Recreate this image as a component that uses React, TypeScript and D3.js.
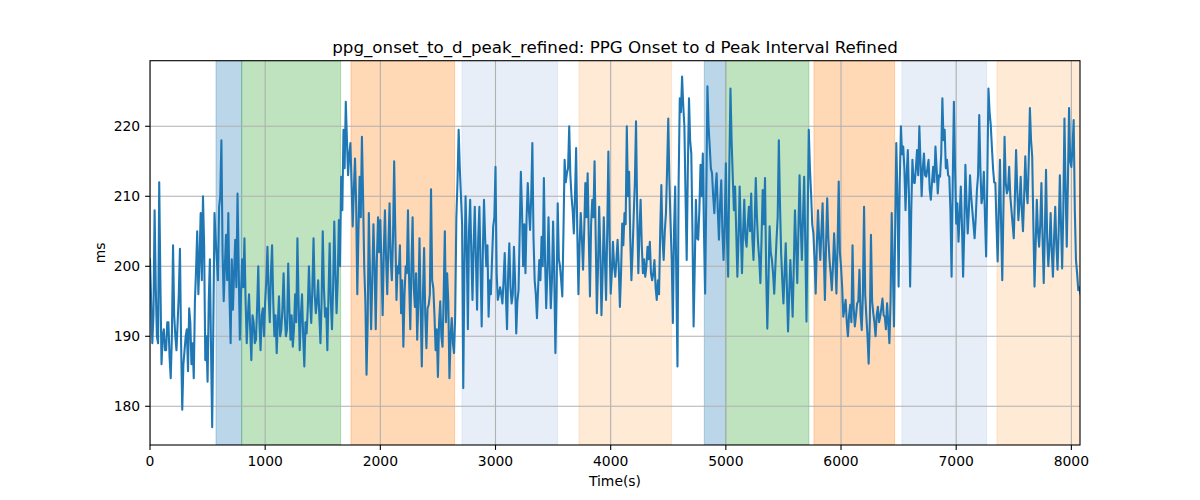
import React from "react";
import * as d3 from "d3";

const title = "ppg_onset_to_d_peak_refined: PPG Onset to d Peak Interval Refined";
const xLabel = "Time(s)";
const yLabel = "ms";

const sampleStep = 20; // seconds between main samples; mid samples sit halfway
const values: number[] = [
  201, 189, 208, 190, 212, 186, 191, 188, 192, 184,
  203, 190, 192, 202.5, 179.5, 188, 191, 194, 186, 184,
  199.5, 196, 207.6, 210, 186.6, 183.5, 201, 177, 207.6, 201,
  208.5, 218, 195, 204.5, 207.6, 189, 193.8, 203.8, 210.4, 189.5,
  201, 204, 189, 196, 186.6, 192, 189.5, 200, 188, 194,
  195, 202.8, 192, 203, 190, 187.6, 195.7, 191, 199, 190,
  200.4, 189.5, 188.5, 196, 204, 188, 196, 185.7, 190.4, 200,
  191.9, 204, 193.3, 198, 189, 205, 192.8, 188, 203.3, 191,
  206.4, 193.3, 206.6, 212.8, 219.5, 223.5, 213, 217.6, 205.7, 215.4,
  196, 212.8, 218.5, 200, 184.5, 207.6, 191, 206, 191, 207,
  206.6, 193, 208, 196, 209, 198, 215, 195.2, 199, 193.3,
  188.5, 200, 208, 191, 207, 194.2, 189.5, 204, 185.7, 202.6,
  188.3, 194.5, 211, 196.9, 188, 184.2, 195, 188.5, 205, 199,
  184, 192.6, 187.6, 207, 219.5, 210, 182.6, 210, 191, 209.5,
  195.2, 208.5, 193.8, 208.5, 191.4, 209.5, 200, 192.8, 196, 205.7,
  214.2, 195.2, 197, 194.7, 201.9, 191, 203.3, 194.7, 202.8, 190.4,
  196.6, 213.5, 200, 199, 211.9, 205.2, 217.6, 198, 192.6, 200.9,
  204.2, 212.6, 194, 207, 194, 206.4, 187.6, 209, 200, 195.7,
  215.2, 213.3, 220, 210, 204.7, 216.9, 196, 207.6, 199.5, 211.9,
  213.3, 195.7, 209.5, 215, 193.3, 208.5, 193, 207, 195.2, 216.4,
  196.1, 203.5, 198.5, 203.8, 194.2, 206.1, 207.6, 220, 213.5, 198,
  207.3, 220.7, 199, 209.5, 199, 198.5, 202.8, 203.5, 198, 200.9,
  195.2, 196, 211.6, 200.9, 207.6, 221.1, 206.1, 191.9, 211.4, 185.7,
  224, 227.1, 220, 200.9, 224, 216.1, 191.4, 209.5, 203.8, 214.5,
  216.1, 196.1, 225.7, 217.1, 213.3, 207.6, 213.3, 203.8, 212.3, 200.9,
  214.7, 198.5, 225.4, 212.8, 211.4, 198.5, 211.4, 199, 209.5, 202.8,
  208.5, 210.4, 200.9, 212.6, 203.3, 197.6, 210.9, 212.6, 191.1, 205.7,
  200.9, 196.1, 203.8, 218, 201.9, 194.7, 203.3, 190.7, 200.9, 192.8,
  208, 197.6, 213, 200.9, 212.8, 192.1, 219.5, 210.4, 204.7, 196.1,
  208, 200.9, 209, 195.2, 209.7, 200.9, 196.6, 204.7, 196.1, 212.1,
  200, 192.8, 195.2, 190, 194.5, 203, 191.4, 194.7, 199.5, 190.9,
  208.5, 192.8, 186.1, 204.5, 193.3, 190, 194.2, 192.8, 195.4, 192.8,
  194.7, 189, 207.6, 191.4, 217.6, 197.1, 220, 217.1, 208, 216.6,
  197.1, 215.2, 211.9, 216.6, 220, 210, 216.1, 212.8, 215.2, 209.5,
  214.2, 217.1, 210.4, 212.8, 224, 219.5, 215.2, 212.8, 198.5, 223.5,
  206.1, 203.5, 211.4, 198.5, 214.5, 204.7, 213, 208, 204, 210.9,
  221.6, 209, 213.5, 201.4, 225.4, 220.2, 214, 211.9, 200.7, 215.2,
  198, 218.5, 210.4, 214.2, 208, 204, 216.6, 206.6, 212.8, 205,
  215.7, 209, 222.6, 215.7, 197.1, 209.5, 202.8, 211.9, 197.6, 213.8,
  200, 207.6, 198.5, 208.5, 199.5, 213, 199.7, 221.1, 202.8, 222.6,
  214.2, 220.9, 200.9, 196.6, 196,
];

const midValues: number[] = [
  195, 193, 197, 189, 198, 190, 188, 192, 187, 190,
  193, 188, 196, 189, 186, 190, 185, 192, 189, 195,
  205, 201, 198, 203, 190, 195, 188, 192, 204, 198,
  210, 202, 200, 198, 196, 201, 199, 197, 200, 196,
  197, 195, 193, 191, 193, 189, 194, 192, 193, 190,
  198, 196, 199, 195, 193, 192, 190, 194, 193, 191,
  194, 193, 191, 192, 195, 193, 190, 192, 194, 195,
  197, 196, 195, 193, 195, 197, 194, 196, 195, 197,
  199, 198, 200, 208, 214, 218, 216, 212, 211, 209,
  205, 207, 210, 195, 192, 199, 198, 200, 201, 202,
  200, 202, 201, 203, 201, 204, 205, 200, 203, 198,
  196, 199, 198, 200, 197, 199, 195, 194, 196, 193,
  194, 196, 198, 193, 191, 192, 190, 196, 192, 195,
  190, 189, 193, 212, 214, 206, 200, 203, 205, 202,
  203, 201, 204, 200, 202, 204, 203, 198, 201, 207,
  199, 196, 196, 198, 196, 199, 197, 196, 198, 195,
  205, 208, 206, 207, 208, 210, 204, 196, 197, 198,
  200, 201, 199, 200, 198, 199, 196, 201, 198, 205,
  212, 214, 213, 208, 210, 205, 203, 204, 205, 207,
  204, 206, 207, 204, 200, 202, 199, 201, 205, 204,
  199, 200, 201, 200, 199, 203, 206, 210, 204, 202,
  212, 208, 205, 203, 201, 200, 201, 199, 199, 197,
  198, 205, 204, 205, 214, 212, 201, 205, 198, 212,
  222, 223, 210, 214, 218, 205, 200, 204, 208, 210,
  205, 210, 220, 214, 210, 211, 208, 209, 205, 206,
  204, 214, 218, 208, 205, 204, 205, 205, 204, 206,
  205, 204, 206, 207, 201, 204, 206, 199, 198, 202,
  199, 200, 207, 209, 198, 199, 197, 196, 197, 200,
  203, 205, 206, 207, 203, 206, 214, 206, 201, 203,
  204, 205, 202, 203, 204, 199, 200, 201, 203, 202,
  197, 194, 192, 193, 192, 194, 193, 195, 193, 196,
  196, 190, 192, 195, 192, 193, 192, 194, 193, 191,
  192, 195, 200, 205, 210, 212, 216, 214, 213, 210,
  208, 212, 214, 213, 215, 214, 213, 214, 211, 212,
  212, 214, 213, 216, 218, 214, 213, 208, 212, 214,
  209, 207, 206, 205, 209, 208, 210, 206, 207, 213,
  214, 210, 207, 212, 222, 217, 212, 206, 208, 206,
  208, 212, 211, 210, 206, 210, 211, 209, 208, 210,
  211, 215, 218, 206, 203, 205, 206, 204, 205, 204,
  203, 202, 204, 203, 205, 206, 208, 211, 212, 215,
  217, 208, 199, 197,
];

const spanStarts = [573, 796, 1745, 2709, 3725, 4813, 4998, 5765, 6529, 7354];
const spanEnds = [796, 1655, 2645, 3539, 4529, 4998, 5721, 6465, 7264, 8200];
const spanColors = ["#1f77b4", "#2ca02c", "#ff7f0e", "#aec7e8", "#ffbb78", "#1f77b4", "#2ca02c", "#ff7f0e", "#aec7e8", "#ffbb78"];

const xTicks = [0, 1000, 2000, 3000, 4000, 5000, 6000, 7000, 8000];
const yTicks = [180, 190, 200, 210, 220];
const xDomain = [0, 8075];
const yDomain = [174.47, 229.37];

const W = 1200, H = 500;
const M = { left: 150, right: 1080, top: 60.7, bottom: 445 };
const FONT = "DejaVu Sans, sans-serif";

export default function App() {
  const x = d3.scaleLinear().domain(xDomain).range([M.left, M.right]);
  const y = d3.scaleLinear().domain(yDomain).range([M.bottom, M.top]);
  const pts: [number, number][] = [];
  values.forEach((v, i) => {
    pts.push([i * sampleStep, v]);
    if (i < midValues.length) pts.push([i * sampleStep + sampleStep / 2, midValues[i]]);
  });
  const line = d3.line<[number, number]>().x(d => x(d[0])).y(d => y(d[1]));
  const pw = M.right - M.left, ph = M.bottom - M.top;
  return (
    <svg width={W} height={H} style={{ position: "absolute", left: 0, top: 0, background: "#fff" }} fontFamily={FONT}>
      <defs>
        <clipPath id="plot"><rect x={M.left} y={M.top} width={pw} height={ph} /></clipPath>
      </defs>
      <rect x={0} y={0} width={W} height={H} fill="#fff" />
      <g clipPath="url(#plot)">
        {spanStarts.map((s, i) => (
          <rect key={i} x={x(s)} y={M.top} width={x(spanEnds[i]) - x(s)} height={ph}
            fill={spanColors[i]} fillOpacity={0.3} stroke={spanColors[i]} strokeOpacity={0.3} strokeWidth={1} />
        ))}
        {xTicks.map(t => (
          <line key={"gx" + t} x1={x(t)} x2={x(t)} y1={M.top} y2={M.bottom} stroke="#b0b0b0" strokeWidth={1.1} />
        ))}
        {yTicks.map(t => (
          <line key={"gy" + t} x1={M.left} x2={M.right} y1={y(t)} y2={y(t)} stroke="#b0b0b0" strokeWidth={1.1} />
        ))}
        <path d={line(pts) || ""} fill="none" stroke="#1f77b4" strokeWidth={2.08} strokeLinejoin="round" strokeLinecap="square" />
      </g>
      <rect x={M.left} y={M.top} width={pw} height={ph} fill="none" stroke="#000" strokeWidth={1.1} />
      {xTicks.map(t => (
        <g key={"xt" + t}>
          <line x1={x(t)} x2={x(t)} y1={M.bottom} y2={M.bottom + 4.9} stroke="#000" strokeWidth={1.1} />
          <text x={x(t)} y={M.bottom + 21} textAnchor="middle" fontSize={13.9} fill="#000">{t}</text>
        </g>
      ))}
      {yTicks.map(t => (
        <g key={"yt" + t}>
          <line x1={M.left - 4.9} x2={M.left} y1={y(t)} y2={y(t)} stroke="#000" strokeWidth={1.1} />
          <text x={M.left - 9.8} y={y(t)} dy="0.35em" textAnchor="end" fontSize={13.9} fill="#000">{t}</text>
        </g>
      ))}
      <text x={(M.left + M.right) / 2} y={486} textAnchor="middle" fontSize={13.9} fill="#000">{xLabel}</text>
      <text transform={`translate(105, ${(M.top + M.bottom) / 2}) rotate(-90)`} textAnchor="middle" fontSize={13.9} fill="#000">{yLabel}</text>
      <text x={(M.left + M.right) / 2} y={52.5} textAnchor="middle" fontSize={16.7} fill="#000">{title}</text>
    </svg>
  );
}
